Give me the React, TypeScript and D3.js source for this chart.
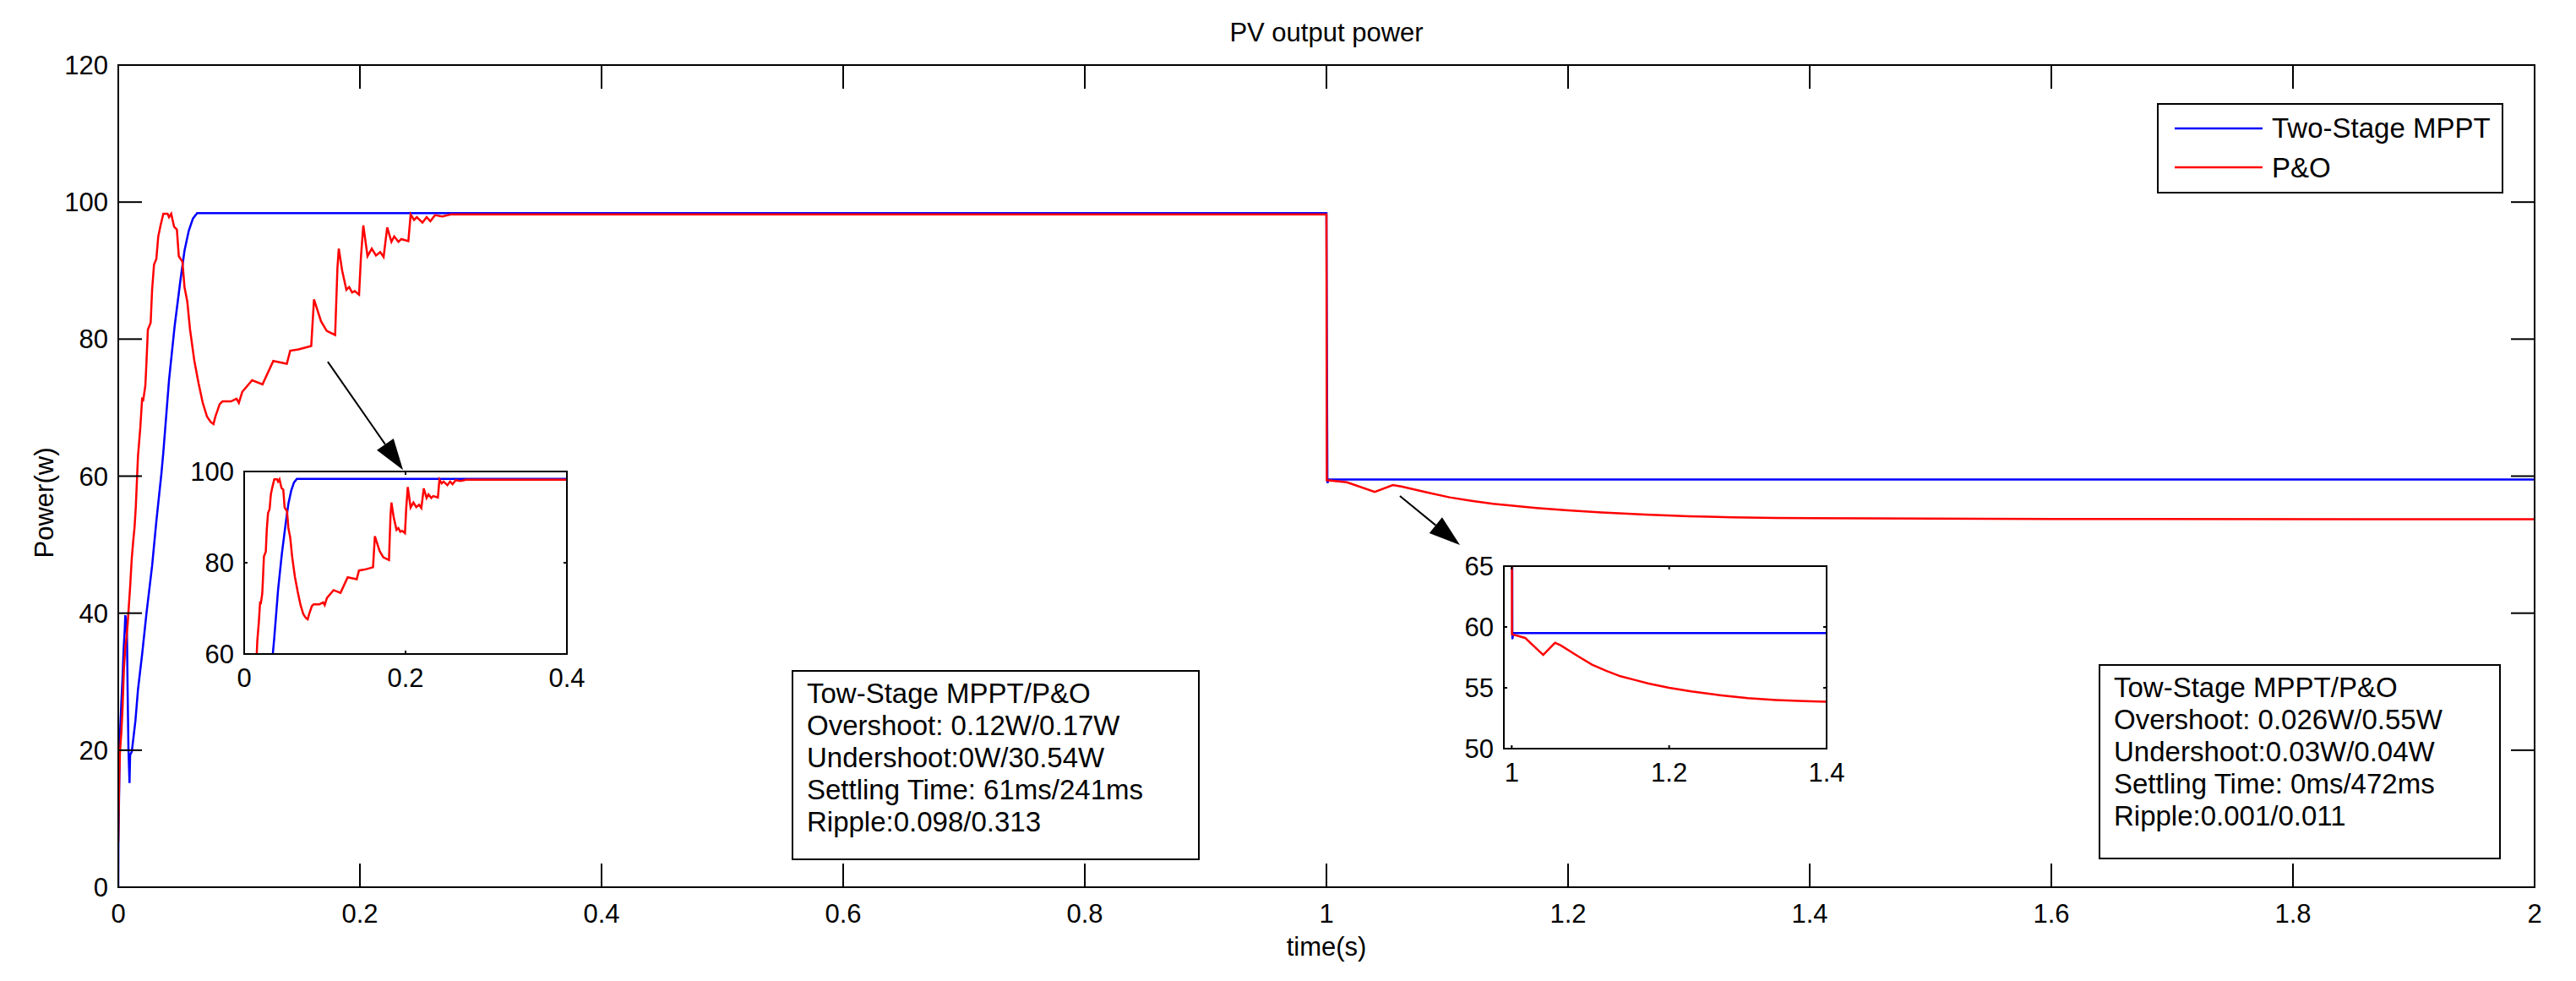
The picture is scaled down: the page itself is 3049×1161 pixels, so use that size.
import React from 'react';
import * as d3 from 'd3';

const FONT = '"Liberation Sans", Arial, Helvetica, sans-serif';

// Two-Stage MPPT: time (s) / power (W)
const twoStageT = [
  0, 0.0001, 0.0014, 0.0025, 0.0035, 0.0045, 0.0054, 0.0058, 0.0065, 0.0072, 0.0077, 0.0084, 0.0093,
  0.0098, 0.0112, 0.0142, 0.0163, 0.0198, 0.0233, 0.028, 0.0315, 0.0357, 0.0373, 0.042, 0.0466,
  0.0513, 0.0548, 0.0583, 0.0618, 0.0653, 1.0, 1.0004, 1.0008, 1.002, 2.0,
];
const twoStageP = [
  0, 6.6, 22.2, 26.8, 30.5, 35, 37.8, 39.7, 39, 36.6, 29.2, 20.3, 15.2,
  19.3, 19.8, 24.3, 28.8, 34.1, 39.9, 46.9, 53.4, 60.4, 63.5, 74.0, 81.8,
  88.4, 92.9, 95.8, 97.6, 98.4, 98.4, 76.6, 59.0, 59.5, 59.5,
];

// P&O: time (s) / power (W)
const poT = [
  0, 0.0003, 0.0008, 0.0014, 0.0025, 0.0035, 0.0047, 0.0058, 0.0068, 0.0078, 0.0086, 0.0098, 0.0105,
  0.0112, 0.0124, 0.0135, 0.0145, 0.0163, 0.0182, 0.0198, 0.0205, 0.0224, 0.0233, 0.0245, 0.0268,
  0.028, 0.0296, 0.0315, 0.0331, 0.035, 0.0373, 0.0408, 0.042, 0.0438, 0.0462, 0.0485, 0.0501,
  0.0531, 0.0548, 0.0571, 0.0594, 0.0629, 0.0664, 0.0699, 0.0734, 0.0765, 0.0788, 0.0804, 0.0839,
  0.0862, 0.0932, 0.0979, 0.0998, 0.1026, 0.1108, 0.1194, 0.1283, 0.1395, 0.1423, 0.1492, 0.1597,
  0.162, 0.1678, 0.1725, 0.1795, 0.1802, 0.1814, 0.1825, 0.1853, 0.1888, 0.1911, 0.1935, 0.1958,
  0.1993, 0.2009, 0.2028, 0.2063, 0.2098, 0.2133, 0.2168, 0.2196, 0.2226, 0.2261, 0.2284, 0.2319,
  0.2343, 0.2401, 0.242, 0.2448, 0.2471, 0.2518, 0.2552, 0.2583, 0.2622, 0.2681, 0.2751, 1.0,
  1.0003, 1.017, 1.04, 1.055, 1.062, 1.084, 1.102, 1.12, 1.138, 1.156, 1.174, 1.2, 1.228, 1.264,
  1.3, 1.336, 1.372, 1.403, 1.6, 2.0,
];
const poP = [
  6.6, 10.7, 16.3, 19.8, 22.5, 26, 32, 35, 36.5, 38.5, 40.7, 43.8, 46,
  48.1, 50.6, 52.6, 55.5, 62.9, 67.0, 71.5, 70.9, 73.2, 76.5, 81.4, 82.4,
  87.2, 90.9, 91.7, 95, 96.6, 98.3, 98.3, 97.8, 98.3, 96.4, 96.0, 92.1,
  91.3, 87.6, 85.5, 81.4, 76.9, 73.6, 70.7, 68.7, 67.9, 67.6, 68.7, 70.5,
  70.9, 70.9, 71.3, 70.7, 72.3, 74.0, 73.4, 76.8, 76.4, 78.3, 78.5, 79.0,
  85.8, 82.6, 81.2, 80.6, 84.3, 90.4, 93.2, 90.0, 87.2, 87.6, 86.8, 87.0,
  86.5, 92.1, 96.6, 92.1, 93.2, 92.2, 92.7, 92.0, 96.3, 94.2, 95.0, 94.2,
  94.6, 94.3, 98.2, 97.4, 97.8, 97.0, 97.8, 97.2, 98.1, 97.9, 98.2, 98.2,
  59.4, 59.1, 57.7, 58.7, 58.5, 57.6, 56.9, 56.4, 55.95, 55.65, 55.35, 55.0, 54.7, 54.4,
  54.15, 54.0, 53.9, 53.85, 53.75, 53.7,
];

const mainXTicks = [0, 0.2, 0.4, 0.6, 0.8, 1, 1.2, 1.4, 1.6, 1.8, 2];
const mainYTicks = [0, 20, 40, 60, 80, 100, 120];
const zoom1XTicks = [0, 0.2, 0.4];
const zoom1YTicks = [60, 80, 100];
const zoom2XTicks = [1, 1.2, 1.4];
const zoom2YTicks = [50, 55, 60, 65];

const legendLabels = ['Two-Stage MPPT', 'P&O'];
const seriesColors = ['#0000ff', '#ff0000'];

// arrows in main-axes data units: [t, P]
const arrowStarts = [[0.1734, 76.7], [1.0608, 57.1]];
const arrowEnds = [[0.2357, 60.9], [1.1105, 49.95]];

const statsLeft = [
  'Tow-Stage MPPT/P&O',
  'Overshoot: 0.12W/0.17W',
  'Undershoot:0W/30.54W',
  'Settling Time: 61ms/241ms',
  'Ripple:0.098/0.313',
];
const statsRight = [
  'Tow-Stage MPPT/P&O',
  'Overshoot: 0.026W/0.55W',
  'Undershoot:0.03W/0.04W',
  'Settling Time: 0ms/472ms',
  'Ripple:0.001/0.011',
];

const series = [d3.zip(twoStageT, twoStageP), d3.zip(poT, poP)];

function Axes({ id, left, top, width, height, xDomain, yDomain, xTicks, yTicks, tickLen, labelGap }) {
  const x = d3.scaleLinear().domain(xDomain).range([left, left + width]);
  const y = d3.scaleLinear().domain(yDomain).range([top + height, top]);
  const line = d3.line<number[]>().x(d => x(d[0])).y(d => y(d[1]));
  const bottom = top + height;
  const right = left + width;
  return (
    <g>
      <defs>
        <clipPath id={id}>
          <rect x={left} y={top} width={width} height={height} />
        </clipPath>
      </defs>
      <rect x={left} y={top} width={width} height={height} fill="#fff" />
      <g clipPath={`url(#${id})`}>
        {series.map((s, i) => (
          <path key={i} d={line(s) || ''} fill="none" stroke={seriesColors[i]} strokeWidth={2.5} />
        ))}
      </g>
      <g stroke="#000" strokeWidth={2}>
        {xTicks.map(t => (
          <g key={'x' + t}>
            <line x1={x(t)} x2={x(t)} y1={bottom} y2={bottom - tickLen} />
            <line x1={x(t)} x2={x(t)} y1={top} y2={top + tickLen} />
          </g>
        ))}
        {yTicks.map(t => (
          <g key={'y' + t}>
            <line x1={left} x2={left + tickLen} y1={y(t)} y2={y(t)} />
            <line x1={right} x2={right - tickLen} y1={y(t)} y2={y(t)} />
          </g>
        ))}
      </g>
      <rect x={left} y={top} width={width} height={height} fill="none" stroke="#000" strokeWidth={2} />
      <g fontFamily={FONT} fontSize={31} fill="#000">
        {xTicks.map(t => (
          <text key={'xl' + t} x={x(t)} y={bottom + labelGap} textAnchor="middle">{String(t)}</text>
        ))}
        {yTicks.map(t => (
          <text key={'yl' + t} x={left - 12} y={y(t) + 11} textAnchor="end">{String(t)}</text>
        ))}
      </g>
    </g>
  );
}

function Arrow({ from, to }) {
  const ang = Math.atan2(to[1] - from[1], to[0] - from[0]);
  const len = 37, hw = 12;
  const bx = to[0] - len * Math.cos(ang), by = to[1] - len * Math.sin(ang);
  const px = -Math.sin(ang) * hw, py = Math.cos(ang) * hw;
  return (
    <g>
      <line x1={from[0]} y1={from[1]} x2={bx} y2={by} stroke="#000" strokeWidth={2} />
      <polygon points={`${to[0]},${to[1]} ${bx + px},${by + py} ${bx - px},${by - py}`} fill="#000" />
    </g>
  );
}

function StatsBox({ x, y, w, h, lines }) {
  return (
    <g>
      <rect x={x} y={y} width={w} height={h} fill="#fff" stroke="#000" strokeWidth={2} />
      <g fontFamily={FONT} fontSize={33} fill="#000">
        {lines.map((l, i) => (
          <text key={i} x={x + 17} y={y + 38 + i * 38}>{l}</text>
        ))}
      </g>
    </g>
  );
}

export default function App() {
  const main = { left: 140, top: 77, width: 2860, height: 973 };
  const mx = d3.scaleLinear().domain([0, 2]).range([main.left, main.left + main.width]);
  const my = d3.scaleLinear().domain([0, 120]).range([main.top + main.height, main.top]);

  return (
    <div style={{ position: 'absolute', left: 0, top: 0 }}>
      <svg width={3049} height={1161} style={{ display: 'block', background: '#fff' }}>
        <rect width={3049} height={1161} fill="#fff" />
        <Axes id="clip-main" {...main} xDomain={[0, 2]} yDomain={[0, 120]}
          xTicks={mainXTicks} yTicks={mainYTicks} tickLen={28} labelGap={42} />

        <text x={1570} y={49} textAnchor="middle" fontFamily={FONT} fontSize={31}>PV output power</text>
        <text x={1570} y={1131} textAnchor="middle" fontFamily={FONT} fontSize={31}>time(s)</text>
        <text transform="translate(63,595) rotate(-90)" textAnchor="middle" fontFamily={FONT} fontSize={31}>Power(w)</text>

        {arrowStarts.map((s, i) => (
          <Arrow key={i} from={[mx(s[0]), my(s[1])]} to={[mx(arrowEnds[i][0]), my(arrowEnds[i][1])]} />
        ))}

        <Axes id="clip-z1" left={289} top={558} width={382} height={216} xDomain={[0, 0.4]} yDomain={[60, 100]}
          xTicks={zoom1XTicks} yTicks={zoom1YTicks} tickLen={4} labelGap={39} />
        <Axes id="clip-z2" left={1780} top={670} width={382} height={216} xDomain={[0.99, 1.4]} yDomain={[50, 65]}
          xTicks={zoom2XTicks} yTicks={zoom2YTicks} tickLen={4} labelGap={39} />

        <StatsBox x={938} y={794} w={481} h={223} lines={statsLeft} />
        <StatsBox x={2485} y={787} w={474} h={229} lines={statsRight} />

        <g>
          <rect x={2554} y={123} width={408} height={105} fill="#fff" stroke="#000" strokeWidth={2} />
          {legendLabels.map((l, i) => (
            <g key={l}>
              <line x1={2574} x2={2678} y1={152 + i * 46} y2={152 + i * 46} stroke={seriesColors[i]} strokeWidth={2.5} />
              <text x={2689} y={163 + i * 47} fontFamily={FONT} fontSize={33}>{l}</text>
            </g>
          ))}
        </g>
      </svg>
    </div>
  );
}
